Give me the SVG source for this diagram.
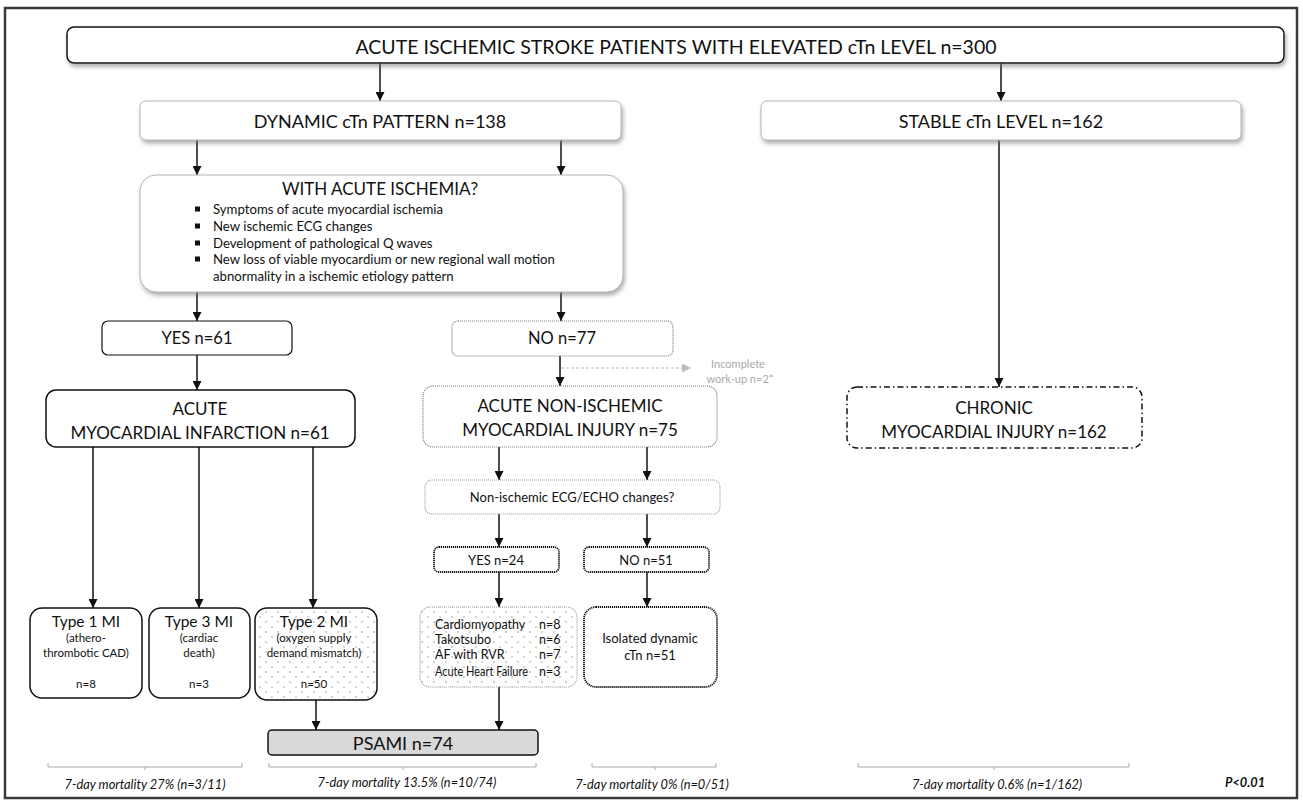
<svg xmlns="http://www.w3.org/2000/svg" width="1303" height="800" viewBox="0 0 1303 800">
<defs>
<style>
text{font-family:Lato,"Open Sans","Liberation Sans",sans-serif;fill:#111;text-anchor:middle;dominant-baseline:central}
.t20{font-size:18px}
.tt{font-size:19.5px}
.t18{font-size:16.5px}
.t17{font-size:17px}
.t15{font-size:15.5px}
.t13{font-size:13px}
.t12{font-size:12.5px}
.tb{font-size:13.2px}
.t11{font-size:11.5px}
.left{text-anchor:start}
.it{font-style:italic;font-size:12.8px}
.gray{fill:#aaa;font-size:11px}
.solid{fill:#fff;stroke:#111;stroke-width:1.5}
.soft{fill:#fff;stroke:#b5b5b5;stroke-width:1}
.dotg{fill:#fff;stroke:#777;stroke-width:1.2;stroke-dasharray:1 1}
.dotl{fill:#fff;stroke:#999;stroke-width:1.1;stroke-dasharray:1 1}
.dotb{fill:#fff;stroke:#111;stroke-width:1.8;stroke-dasharray:1.2 0.8}
.dashdot{fill:#fff;stroke:#111;stroke-width:1.5;stroke-dasharray:6 3 1.5 3}
.conn line,.conn path{stroke:#111;stroke-width:1.5;fill:none}
.brk{stroke:#a8a8a8;stroke-width:1;fill:none}
</style>
<filter id="sh" x="-5%" y="-20%" width="110%" height="150%">
<feDropShadow dx="1.5" dy="3" stdDeviation="2" flood-color="#777" flood-opacity="0.6"/>
</filter>
<marker id="ah" viewBox="0 0 10 10" refX="10" refY="5" markerWidth="9" markerHeight="9" markerUnits="userSpaceOnUse" orient="auto">
<path d="M0,0 L10,5 L0,10 z" fill="#111"/>
</marker>
<marker id="ahg" viewBox="0 0 10 10" refX="10" refY="5" markerWidth="9" markerHeight="9" markerUnits="userSpaceOnUse" orient="auto">
<path d="M0,0 L10,5 L0,10 z" fill="#bbb"/>
</marker>
<pattern id="dots" width="12" height="10" patternUnits="userSpaceOnUse">
<rect width="12" height="10" fill="#fff"/>
<circle cx="2" cy="2" r="0.7" fill="#888"/>
<circle cx="8" cy="7" r="0.7" fill="#888"/>
</pattern>
</defs>

<rect x="5" y="8" width="1292" height="790" fill="#fff" stroke="#3a3a3a" stroke-width="2.5"/>

<g class="conn">
<line x1="380" y1="63" x2="380" y2="101" marker-end="url(#ah)"/>
<line x1="1001" y1="63" x2="1001" y2="101" marker-end="url(#ah)"/>
<line x1="197" y1="140" x2="197" y2="175" marker-end="url(#ah)"/>
<line x1="561" y1="140" x2="561" y2="175" marker-end="url(#ah)"/>
<line x1="197" y1="292" x2="197" y2="321" marker-end="url(#ah)"/>
<line x1="561" y1="292" x2="561" y2="321" marker-end="url(#ah)"/>
<line x1="197" y1="355" x2="197" y2="390" marker-end="url(#ah)"/>
<line x1="560" y1="356" x2="560" y2="386" marker-end="url(#ah)"/>
<line x1="561" y1="368" x2="691" y2="368" style="stroke:#bbb;stroke-width:1.2;stroke-dasharray:3 2" marker-end="url(#ahg)"/>
<line x1="999" y1="140" x2="999" y2="387" marker-end="url(#ah)"/>
<line x1="93" y1="447" x2="93" y2="608" marker-end="url(#ah)"/>
<line x1="199" y1="447" x2="199" y2="608" marker-end="url(#ah)"/>
<line x1="313" y1="447" x2="313" y2="608" marker-end="url(#ah)"/>
<line x1="499" y1="447" x2="499" y2="480" marker-end="url(#ah)"/>
<line x1="647" y1="447" x2="647" y2="480" marker-end="url(#ah)"/>
<line x1="499" y1="514" x2="499" y2="547" marker-end="url(#ah)"/>
<line x1="647" y1="514" x2="647" y2="547" marker-end="url(#ah)"/>
<line x1="499" y1="572" x2="499" y2="607" marker-end="url(#ah)"/>
<line x1="647" y1="572" x2="647" y2="607" marker-end="url(#ah)"/>
<line x1="316" y1="700" x2="316" y2="730" marker-end="url(#ah)"/>
<line x1="499" y1="687" x2="499" y2="730" marker-end="url(#ah)"/>
</g>

<g id="n-top">
<rect x="67" y="27" width="1217" height="36" rx="7" class="solid" filter="url(#sh)"/>
<text x="676" y="46" class="tt">ACUTE ISCHEMIC STROKE PATIENTS WITH ELEVATED cTn LEVEL n=300</text>
</g>
<g id="n-dynamic">
<rect x="140" y="101" width="481" height="39" rx="6" class="soft" filter="url(#sh)"/>
<text x="380" y="121" class="t20">DYNAMIC cTn PATTERN n=138</text>
</g>
<g id="n-stable">
<rect x="761" y="101" width="480" height="39" rx="6" class="soft" filter="url(#sh)"/>
<text x="1001" y="121" class="t20">STABLE cTn LEVEL n=162</text>
</g>
<g id="n-ischemia">
<rect x="140" y="175" width="483" height="117" rx="16" class="soft" filter="url(#sh)"/>
<text x="380" y="188" class="t17">WITH ACUTE ISCHEMIA?</text>
<rect x="195" y="206.5" width="5" height="5" fill="#111"/>
<rect x="195" y="223.5" width="5" height="5" fill="#111"/>
<rect x="195" y="240.5" width="5" height="5" fill="#111"/>
<rect x="195" y="256.5" width="5" height="5" fill="#111"/>
<text x="213" y="209" class="tb left">Symptoms of acute myocardial ischemia</text>
<text x="213" y="226" class="tb left">New ischemic ECG changes</text>
<text x="213" y="243" class="tb left">Development of pathological Q waves</text>
<text x="213" y="259" class="tb left">New loss of viable myocardium or new regional wall motion</text>
<text x="213" y="276" class="tb left">abnormality in a ischemic etiology pattern</text>
</g>
<g id="n-yes61">
<rect x="102" y="321" width="190" height="34" rx="6" fill="#fff" stroke="#111" stroke-width="1.2"/>
<text x="197" y="338" class="t18">YES n=61</text>
</g>
<g id="n-no77">
<rect x="452" y="321" width="221" height="35" rx="6" class="dotg"/>
<text x="562" y="338" class="t18">NO n=77</text>
</g>
<g id="n-incomplete">
<text x="738" y="363" class="gray">Incomplete</text>
<text x="740" y="378" class="gray">work-up n=2*</text>
</g>
<g id="n-ami">
<rect x="46" y="390" width="309" height="57" rx="10" class="solid"/>
<text x="200" y="408" class="t17">ACUTE</text>
<text x="200" y="432" class="t17">MYOCARDIAL INFARCTION n=61</text>
</g>
<g id="n-nonisch">
<rect x="423" y="386" width="294" height="61" rx="10" class="dotg"/>
<text x="570" y="405" class="t17">ACUTE NON-ISCHEMIC</text>
<text x="570" y="429" class="t17">MYOCARDIAL INJURY n=75</text>
</g>
<g id="n-chronic">
<rect x="847" y="387" width="295" height="61" rx="10" class="dashdot"/>
<text x="994" y="407" class="t17">CHRONIC</text>
<text x="994" y="431" class="t17">MYOCARDIAL INJURY n=162</text>
</g>
<g id="n-ecg">
<rect x="425" y="480" width="295" height="34" rx="7" class="dotl"/>
<text x="572" y="497" class="t13">Non-ischemic ECG/ECHO changes?</text>
</g>
<g id="n-yes24">
<rect x="434" y="547" width="125" height="25" rx="5" class="dotb"/>
<text x="496" y="560" class="t13">YES n=24</text>
</g>
<g id="n-no51">
<rect x="584" y="547" width="125" height="25" rx="5" class="dotb"/>
<text x="646" y="560" class="t13">NO n=51</text>
</g>
<g id="n-type1">
<rect x="30" y="608" width="112" height="90" rx="12" class="solid"/>
<text x="86" y="621" class="t15">Type 1 MI</text>
<text x="86" y="637" class="t11">(athero-</text>
<text x="86" y="652" class="t11">thrombotic CAD)</text>
<text x="86" y="683" class="t11">n=8</text>
</g>
<g id="n-type3">
<rect x="149" y="608" width="101" height="90" rx="12" class="solid"/>
<text x="199" y="621" class="t15">Type 3 MI</text>
<text x="199" y="637" class="t11">(cardiac</text>
<text x="199" y="652" class="t11">death)</text>
<text x="199" y="683" class="t11">n=3</text>
</g>
<g id="n-type2">
<rect x="255" y="608" width="122" height="92" rx="12" fill="url(#dots)" stroke="#111" stroke-width="1.5"/>
<text x="314" y="621" class="t15">Type 2 MI</text>
<text x="314" y="637" class="t11">(oxygen supply</text>
<text x="314" y="652" class="t11">demand mismatch)</text>
<text x="314" y="683" class="t11">n=50</text>
</g>
<g id="n-list">
<rect x="420" y="607" width="157" height="80" rx="10" fill="url(#dots)" stroke="#999" stroke-width="1.1" stroke-dasharray="1 1"/>
<text x="435" y="624" class="t12 left">Cardiomyopathy</text>
<text x="435" y="639" class="t12 left">Takotsubo</text>
<text x="435" y="654" class="t12 left">AF with RVR</text>
<text x="435" y="671" class="t12 left" textLength="93" lengthAdjust="spacingAndGlyphs">Acute Heart Failure</text>
<text x="539" y="624" class="t12 left">n=8</text>
<text x="539" y="639" class="t12 left">n=6</text>
<text x="539" y="654" class="t12 left">n=7</text>
<text x="539" y="671" class="t12 left">n=3</text>
</g>
<g id="n-isolated">
<rect x="584" y="607" width="133" height="80" rx="12" class="dotb"/>
<text x="650" y="638" class="t13">Isolated  dynamic</text>
<text x="650" y="655" class="t13">cTn n=51</text>
</g>
<g id="n-psami">
<rect x="268" y="730" width="270" height="25" rx="4" fill="#d9d9d9" stroke="#111" stroke-width="1.5"/>
<text x="403" y="743" class="t20">PSAMI n=74</text>
</g>
<g id="brackets">
<path class="brk" d="M48,763 V767 H242 V763 M145,767 V770"/>
<path class="brk" d="M269,763 V767 H536 V763 M403,767 V770"/>
<path class="brk" d="M592,763 V767 H716 V763 M655,767 V770"/>
<path class="brk" d="M858,763 V767 H1129 V763 M994,767 V770"/>
</g>
<g id="mortality">
<text x="145" y="784" class="it">7-day mortality 27% (n=3/11)</text>
<text x="407" y="782" class="it">7-day mortality 13.5% (n=10/74)</text>
<text x="652" y="784" class="it">7-day mortality 0% (n=0/51)</text>
<text x="997" y="784" class="it">7-day mortality 0.6% (n=1/162)</text>
<text x="1245" y="782" class="it" style="font-weight:bold">P&lt;0.01</text>
</g>
</svg>
